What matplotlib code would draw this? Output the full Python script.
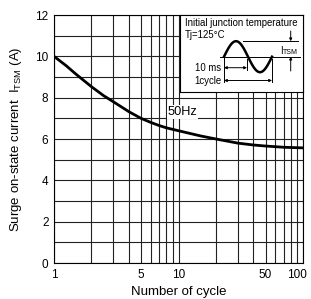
import numpy as np
import matplotlib
matplotlib.use("Agg")
import matplotlib.pyplot as plt
from matplotlib.transforms import ScaledTranslation

plt.rcParams['font.family'] = ['Liberation Sans', 'DejaVu Sans']

# surge current vs number of cycles (50Hz)
cycles = [1, 1.25, 1.5, 2, 2.5, 3, 4, 5, 6, 7, 8, 10, 15, 20, 30, 40, 50, 70, 100]
itsm = [10.0, 9.55, 9.14, 8.53, 8.1, 7.8, 7.32, 7.0, 6.8, 6.65, 6.54, 6.4,
        6.15, 6.0, 5.8, 5.71, 5.66, 5.6, 5.57]

xticks = [1, 5, 10, 50, 100]
xticklabels = ['1', '5', '10', '50', '100']
yticks = [0, 2, 4, 6, 8, 10, 12]

W, H = 311, 299
fig = plt.figure(figsize=(W / 100, H / 100), dpi=100)
ax = fig.add_axes([54 / W, 36 / H, 249 / W, 248 / H])

ax.set_xscale('log')
ax.set_xlim(1, 100)
ax.set_ylim(0, 12)

# grid: every integer on y, log decades on x
gx = list(range(1, 10)) + list(range(10, 101, 10))
for v in gx:
    ax.axvline(v, color='#222222', lw=0.8, zorder=1)
for v in range(0, 13):
    ax.axhline(v, color='#222222', lw=0.8, zorder=1)

ax.plot(cycles, itsm, color='black', lw=2.0, zorder=3, solid_capstyle='butt')

ax.text(10.8, 7.02, '50Hz', ha='center', va='bottom', fontsize=9.2, zorder=4,
        bbox=dict(facecolor='white', edgecolor='none', pad=0.6))

ax.set_xticks(xticks)
ax.set_xticklabels(xticklabels)
ax.minorticks_off()
ax.set_yticks(yticks)
ax.tick_params(length=0, labelsize=8.5, pad=4)
# last label pulled inside the figure, as in the original
last = ax.get_xticklabels()[-1]
last.set_horizontalalignment('right')
last.set_transform(last.get_transform() + ScaledTranslation(4 / 100, 0, fig.dpi_scale_trans))
for s in ax.spines.values():
    s.set_color('black')
    s.set_linewidth(0.8)

ax.set_xlabel('Number of cycle', fontsize=9.5, labelpad=4)
ax.set_ylabel(r'Surge on-state current  $\mathregular{I_{TSM}}$ (A)', fontsize=9.5, labelpad=8)

# inset schematic, drawn in image pixel coordinates
bx0, bx1, by0, by1 = 180, 303, 15, 92
ins = fig.add_axes([bx0 / W, (H - by1) / H, (bx1 - bx0) / W, (by1 - by0) / H])
ins.set_xlim(bx0, bx1)
ins.set_ylim(by1, by0)
ins.set_xticks([])
ins.set_yticks([])
for s in ins.spines.values():
    s.set_color('black')
    s.set_linewidth(0.8)

fs = 6.9
ins.text(185, 22.5, 'Initial junction temperature', fontsize=fs, va='center', ha='left')
ins.text(185, 34.5, 'Tj=125°C', fontsize=fs, va='center', ha='left')

base, amp = 56.7, 15.5
t = np.linspace(0, 1, 100)
sx = 224 + 48 * t
sy = base - amp * np.sin(2 * np.pi * t)
ins.plot(sx, sy, color='black', lw=1.8)
ins.plot([220, 300], [base, base], color='black', lw=0.7)
ins.plot([243, 298], [base - amp, base - amp], color='black', lw=0.7)
ins.plot([224, 224], [base, 82], color='black', lw=0.7)
ins.plot([247, 247], [base + 2, 70], color='black', lw=0.7)
ins.plot([272, 272], [base + 2, 82], color='black', lw=0.7)

arr = dict(arrowstyle='<|-|>', color='black', lw=0.7, mutation_scale=4, shrinkA=0, shrinkB=0)
ins.annotate('', xy=(224, 67.7), xytext=(247, 67.7), arrowprops=arr)
ins.annotate('', xy=(224, 80.5), xytext=(272, 80.5), arrowprops=arr)
one = dict(arrowstyle='-|>', color='black', lw=0.7, mutation_scale=4, shrinkA=0, shrinkB=0)
ins.annotate('', xy=(290.7, base - amp), xytext=(290.7, 31), arrowprops=one)
ins.annotate('', xy=(290.7, base), xytext=(290.7, 71), arrowprops=one)

ins.text(221, 67.7, '10 ms', fontsize=fs, va='center', ha='right')
ins.text(221, 80.5, '1cycle', fontsize=fs, va='center', ha='right')
ins.text(280, 51.5, 'I', fontsize=fs, va='center', ha='left')
ins.text(282.5, 52.2, 'TSM', fontsize=5.0, va='center', ha='left')

fig.savefig('out.png', dpi=100)
